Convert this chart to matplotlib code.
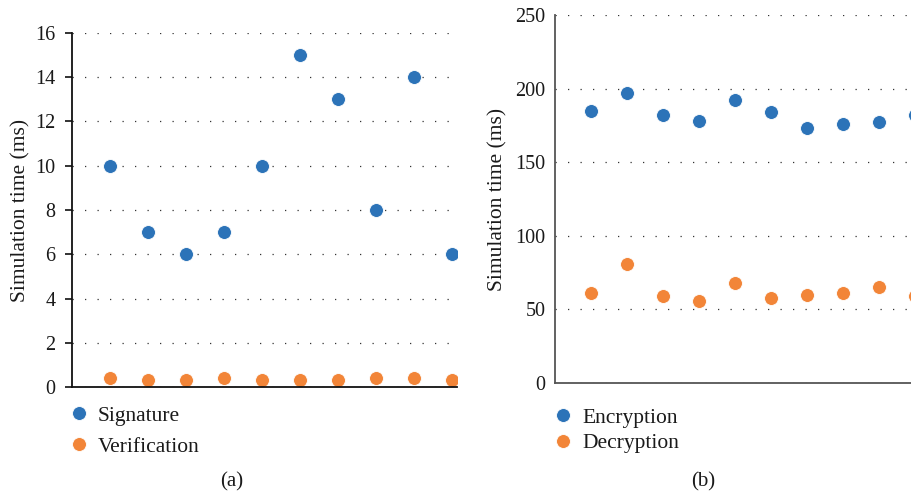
import matplotlib.pyplot as plt
import numpy as np

plt.rcParams['font.family'] = ['Liberation Serif', 'DejaVu Serif']

# data
runs = np.arange(1, 11)
signature = [10, 7, 6, 7, 10, 15, 13, 8, 14, 6]
verification = [0.4, 0.3, 0.3, 0.4, 0.3, 0.3, 0.3, 0.4, 0.4, 0.3]
encryption = [185, 197, 182, 178, 192, 184, 173, 176, 177, 182]
decryption = [61, 81, 59, 56, 68, 58, 60, 61, 65, 59]

blue = '#2c73b8'
orange = '#f28538'
W, H = 912, 498

fig = plt.figure(figsize=(W / 100, H / 100), dpi=100)

# axes placed in pixel terms (right one runs past the edge, as in the source)
ax1 = fig.add_axes([72 / W, 1 - 387 / H, 385 / W, (387 - 33) / H])
ax2 = fig.add_axes([555 / W, 1 - 383 / H, 365 / W, (383 - 15) / H])


def style(ax, ymax, step, spine_col, ticklen, pad):
    ax.set_ylim(0, ymax)
    ax.set_yticks(np.arange(0, ymax + 1, step))
    ax.set_xticks([])
    for s in ['top', 'right']:
        ax.spines[s].set_visible(False)
    for s in ['left', 'bottom']:
        ax.spines[s].set_color(spine_col)
        ax.spines[s].set_linewidth(1.3)
    ax.tick_params(axis='y', labelsize=14.5, length=ticklen, width=1.2,
                   pad=pad, color=spine_col, labelcolor='#1a1a1a')
    ax.yaxis.grid(True, color='#333333', linestyle=(0, (1, 9)), linewidth=0.9)
    ax.set_axisbelow(True)
    ax.set_ylabel('Simulation time (ms)', fontsize=15.5, color='#1a1a1a')


style(ax1, 16, 2, '#111111', 5, 7)
ax1.set_xlim(0, 385 / 38)
ax1.yaxis.set_label_coords(-42 / 385, 0.5)
ax1.plot(runs, signature, 'o', color=blue, ms=10, mec='white', mew=0.6, label='Signature')
ax1.plot(runs, verification, 'o', color=orange, ms=10, mec='white', mew=0.6, label='Verification')
ax1.legend(loc='upper left', bbox_to_anchor=(55 / W, 1 - 395 / H), bbox_transform=fig.transFigure,
           frameon=False, fontsize=15.5, handletextpad=0.3, labelspacing=0.5, borderpad=0,
           handlelength=1.2, labelcolor='#1a1a1a')
fig.text(232 / W, 1 - 482 / H, '(a)', ha='center', va='center', fontsize=15, color='#1a1a1a')

style(ax2, 250, 50, '#555555', 0, 7)
ax2.set_xlim(0, 365 / 36)
ax2.yaxis.set_label_coords(-48 / 365, 0.5)
ax2.plot(runs, encryption, 'o', color=blue, ms=10, mec='white', mew=0.6, label='Encryption')
ax2.plot(runs, decryption, 'o', color=orange, ms=10, mec='white', mew=0.6, label='Decryption')
ax2.legend(loc='upper left', bbox_to_anchor=(539 / W, 1 - 397 / H), bbox_transform=fig.transFigure,
           frameon=False, fontsize=15.5, handletextpad=0.3, labelspacing=0.25, borderpad=0,
           handlelength=1.2, labelcolor='#1a1a1a')
fig.text(703 / W, 1 - 482 / H, '(b)', ha='center', va='center', fontsize=15, color='#1a1a1a')

fig.savefig('out.png', dpi=100)
